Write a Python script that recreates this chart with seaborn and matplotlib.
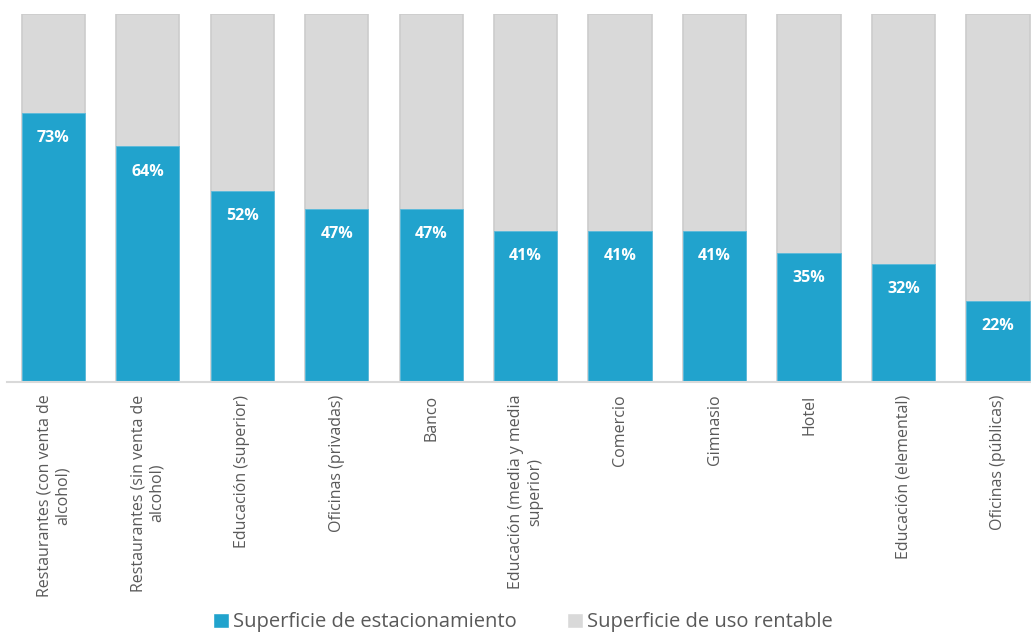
import matplotlib
matplotlib.use('Agg')
import matplotlib.pyplot as plt
import numpy as np
import pandas as pd
import seaborn as sns
from matplotlib.patches import Patch

categories = ['Restaurantes (con venta de\nalcohol)', 'Restaurantes (sin venta de\nalcohol)',
              'Educación (superior)', 'Oficinas (privadas)', 'Banco',
              'Educación (media y media\nsuperior)', 'Comercio', 'Gimnasio', 'Hotel',
              'Educación (elemental)', 'Oficinas (públicas)']
parking = [73, 64, 52, 47, 47, 41, 41, 41, 35, 32, 22]
total = [100] * len(categories)

blue = '#21A3CD'
grey = '#D9D9D9'

sns.set_style('white')
plt.rcParams['font.family'] = ['Open Sans', 'DejaVu Sans']

df = pd.DataFrame({'cat': categories, 'parking': parking, 'total': total})

fig = plt.figure(figsize=(10.31, 6.33), dpi=100)
ax = fig.add_axes([7 / 1031, 1 - 382 / 633, 1 - 7 / 1031, (382 - 14) / 633])

# grey bar for the full 100%, blue share drawn on top
sns.barplot(x='cat', y='total', data=df, color=grey, width=0.67, ax=ax,
            saturation=1, edgecolor='#CCCCCC', linewidth=1.2)
sns.barplot(x='cat', y='parking', data=df, color=blue, width=0.67, ax=ax,
            saturation=1, edgecolor='#5BBADB', linewidth=0.6)

for i, v in enumerate(parking):
    ax.text(i, v - 6.8, f'{v}%', ha='center', va='center', color='white',
            fontsize=11.5, fontweight='bold')

ax.set_ylim(0, 100)
ax.set_xlim(-0.49, 10.35)
ax.set_xlabel('')
ax.set_ylabel('')
ax.set_yticks([])
ax.set_xticks(range(len(categories)))
ax.set_xticklabels(categories, rotation=90, ha='center', va='top',
                   fontsize=11.5, color='#595959', multialignment='center')
ax.tick_params(axis='x', length=0, pad=9)
for s in ['top', 'right', 'left']:
    ax.spines[s].set_visible(False)
ax.spines['bottom'].set_color('#D9D9D9')
ax.spines['bottom'].set_linewidth(1.5)

handles = [Patch(facecolor=blue, label='Superficie de estacionamiento'),
           Patch(facecolor=grey, label='Superficie de uso rentable')]
fig.legend(handles=handles, loc='center', bbox_to_anchor=(0.507, 0.017), ncol=2,
           frameon=False, fontsize=14.5, handlelength=0.8, handleheight=0.8,
           handletextpad=0.2, columnspacing=2.5, labelcolor='#595959')

plt.savefig('out.png', dpi=100)
